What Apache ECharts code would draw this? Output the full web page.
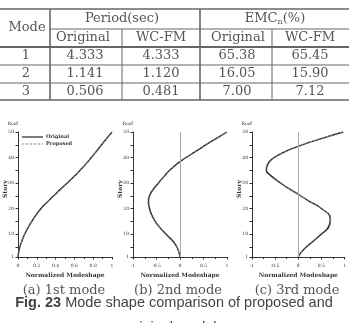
<!DOCTYPE html>
<html>
<head>
<meta charset="utf-8">
<script src="https://cdn.jsdelivr.net/npm/echarts@6/dist/echarts.min.js"></script>
<style>
  html, body { margin: 0; padding: 0; background: #fff; }
  #main { width: 349px; height: 323px; }
</style>
</head>
<body>
<div id="main"></div>
<script>
// table values
const tableModes = ["1", "2", "3"];
const periodOriginal = ["4.333", "1.141", "0.506"];
const periodWcfm = ["4.333", "1.120", "0.481"];
const emcOriginal = ["65.38", "16.05", "7.00"];
const emcWcfm = ["65.45", "15.90", "7.12"];

// mode shapes
const stories = [1, 2, 3, 5, 7, 10, 13, 16, 20, 23, 25, 28, 30, 33, 35, 38, 40, 42, 44, 46, 48, 50];
const mode1Original = [0, 0.003, 0.008, 0.02, 0.038, 0.072, 0.115, 0.165, 0.245, 0.325, 0.38, 0.465, 0.525, 0.61, 0.66, 0.735, 0.78, 0.825, 0.868, 0.91, 0.955, 1.0];
const mode1Proposed = [0, 0.004, 0.009, 0.022, 0.04, 0.075, 0.118, 0.168, 0.249, 0.329, 0.384, 0.468, 0.528, 0.612, 0.662, 0.737, 0.782, 0.827, 0.87, 0.912, 0.956, 1.0];
const mode2Original = [0, -0.01, -0.025, -0.07, -0.14, -0.3, -0.45, -0.56, -0.65, -0.67, -0.65, -0.55, -0.46, -0.32, -0.22, -0.03, 0.13, 0.3, 0.47, 0.64, 0.82, 1.0];
const mode2Proposed = [0, -0.011, -0.027, -0.074, -0.146, -0.31, -0.46, -0.57, -0.66, -0.68, -0.66, -0.56, -0.47, -0.33, -0.23, -0.04, 0.12, 0.29, 0.46, 0.63, 0.81, 1.0];
const mode3Original = [0, 0.03, 0.07, 0.18, 0.31, 0.5, 0.66, 0.69, 0.5, 0.22, 0.05, -0.22, -0.38, -0.6, -0.69, -0.64, -0.52, -0.32, -0.06, 0.25, 0.6, 0.97];
const mode3Proposed = [0, 0.032, 0.075, 0.19, 0.325, 0.52, 0.68, 0.7, 0.51, 0.23, 0.05, -0.23, -0.39, -0.62, -0.7, -0.65, -0.53, -0.33, -0.07, 0.24, 0.59, 0.97];

const storyTicks = [1, 10, 20, 30, 40, 50];
const storyMinorTicks = [1, 5, 10, 15, 20, 25, 30, 35, 40, 45, 50];
const captions = ["(a) 1st mode", "(b) 2nd mode", "(c) 3rd mode"];

const chart = echarts.init(document.getElementById("main"), null, { renderer: "canvas" });

const serif = "DejaVu Serif";
const ink = "#333";

function pairs(xs) {
  return stories.map((s, i) => [xs[i], s]);
}

// layout of the three small plots
const grids = [
  { left: 18, top: 132, width: 94, height: 125 },
  { left: 133, top: 132, width: 94, height: 125 },
  { left: 252, top: 132, width: 95, height: 125 },
];

function xAxisFor(i) {
  const first = i === 0;
  return {
    gridIndex: i,
    type: "value",
    min: first ? 0 : -1,
    max: 1,
    interval: first ? 0.2 : 0.5,
    name: "Normalized Modeshape",
    nameLocation: "middle",
    nameGap: 15,
    nameTextStyle: { fontFamily: serif, fontWeight: "bold", fontSize: 6, color: ink },
    axisLine: { onZero: false, lineStyle: { color: ink, width: 1 } },
    axisTick: { length: 2.5, lineStyle: { color: ink } },
    minorTick: { show: true, splitNumber: 2, length: 2, lineStyle: { color: ink } },
    axisLabel: { fontFamily: serif, fontSize: 4.5, color: ink, margin: 6 },
    splitLine: { show: false },
  };
}

function yAxisFor(i) {
  return {
    gridIndex: i,
    type: "value",
    min: 1,
    max: 50,
    name: "Roof",
    nameLocation: "end",
    nameGap: 6,
    nameTextStyle: { fontFamily: serif, fontSize: 4.5, color: ink, align: "right" },
    axisLine: { onZero: false, lineStyle: { color: ink, width: 1 } },
    axisTick: { length: 2.5, customValues: storyMinorTicks, lineStyle: { color: ink } },
    axisLabel: { fontFamily: serif, fontSize: 4.5, color: ink, margin: 4, customValues: storyTicks },
    splitLine: { show: false },
  };
}

const modeData = [
  [mode1Original, mode1Proposed],
  [mode2Original, mode2Proposed],
  [mode3Original, mode3Proposed],
];

const series = [];
modeData.forEach(([orig, prop], i) => {
  series.push({
    name: "Original",
    type: "line",
    xAxisIndex: i,
    yAxisIndex: i,
    data: pairs(orig),
    smooth: 0.5,
    symbol: "none",
    color: "#222",
    lineStyle: { color: "#222", width: 1.4 },
    markLine: i === 0 ? undefined : {
      silent: true,
      symbol: "none",
      label: { show: false },
      lineStyle: { color: "#aaa", width: 1, type: "solid" },
      data: [{ xAxis: 0 }],
    },
    z: 3,
  });
  series.push({
    name: "Proposed",
    type: "line",
    xAxisIndex: i,
    yAxisIndex: i,
    data: pairs(prop),
    smooth: 0.5,
    symbol: "none",
    color: "#888",
    lineStyle: { color: "#888", width: 1, type: [3, 1.5] },
    z: 4,
  });
});

// table drawn as graphic
const tableColor = "#555";
const lineColor = "#666";
const colX = [0, 50, 122, 200, 272, 349];
const rowY = [9, 29, 47, 65, 83, 100];
const tableFont = 13;

function hLine(x1, x2, y, w) {
  return { type: "line", shape: { x1, y1: y, x2, y2: y }, style: { stroke: lineColor, lineWidth: w || 1 } };
}
function vLine(x, y1, y2, w) {
  return { type: "line", shape: { x1: x, y1, x2: x, y2 }, style: { stroke: lineColor, lineWidth: w || 1 } };
}
function cellText(text, cx, cy) {
  return {
    type: "text",
    x: cx,
    y: cy,
    style: {
      text,
      fill: tableColor,
      font: tableFont + "px '" + serif + "'",
      align: "center",
      verticalAlign: "middle",
    },
  };
}

const graphics = [];
graphics.push(hLine(0, 349, rowY[0], 1.3));
graphics.push(hLine(colX[1], 349, rowY[1], 1));
graphics.push(hLine(0, 349, rowY[2], 1.8));
graphics.push(hLine(0, 349, rowY[3], 1));
graphics.push(hLine(0, 349, rowY[4], 1));
graphics.push(hLine(0, 349, rowY[5], 1.3));
graphics.push(vLine(colX[1], rowY[0], rowY[5], 1.6));
graphics.push(vLine(colX[2], rowY[1], rowY[5], 1));
graphics.push(vLine(colX[3], rowY[0], rowY[5], 1.6));
graphics.push(vLine(colX[4], rowY[1], rowY[5], 1));

graphics.push(cellText("Mode", 27, 28));
graphics.push(cellText("Period(sec)", 122, 19));
graphics.push({
  type: "text",
  x: 275,
  y: 19,
  style: {
    text: "EMC{s|n}(%)",
    fill: tableColor,
    font: tableFont + "px '" + serif + "'",
    align: "center",
    verticalAlign: "middle",
    rich: { s: { fontSize: 8, fontFamily: serif, fill: tableColor, padding: [6, 0, 0, 0] } },
  },
});
graphics.push(cellText("Original", 83, 38));
graphics.push(cellText("WC-FM", 161, 38));
graphics.push(cellText("Original", 238, 38));
graphics.push(cellText("WC-FM", 310, 38));

const rowCenters = [56, 74, 91.5];
tableModes.forEach((m, r) => {
  const cy = rowCenters[r];
  graphics.push(cellText(m, 26, cy));
  graphics.push(cellText(periodOriginal[r], 85, cy));
  graphics.push(cellText(periodWcfm[r], 161, cy));
  graphics.push(cellText(emcOriginal[r], 237, cy));
  graphics.push(cellText(emcWcfm[r], 310, cy));
});

// y axis titles ("Story") for each plot
const storyX = [5, 120, 239];
storyX.forEach((x) => {
  graphics.push({
    type: "text",
    x: x,
    y: 189,
    rotation: Math.PI / 2,
    style: {
      text: "Story",
      fill: ink,
      font: "bold 6px '" + serif + "'",
      align: "center",
      verticalAlign: "middle",
    },
  });
});

// legend of the first plot, drawn by hand
graphics.push({ type: "line", shape: { x1: 22, y1: 137, x2: 43, y2: 137 }, style: { stroke: "#222", lineWidth: 1.2 } });
graphics.push({ type: "line", shape: { x1: 22, y1: 144, x2: 43, y2: 144 }, style: { stroke: "#888", lineWidth: 1, lineDash: [2.5, 1.5] } });
graphics.push({ type: "text", x: 46, y: 137, style: { text: "Original", fill: ink, font: "bold 5px '" + serif + "'", verticalAlign: "middle" } });
graphics.push({ type: "text", x: 46, y: 144, style: { text: "Proposed", fill: ink, font: "bold 5px '" + serif + "'", verticalAlign: "middle" } });

// captions
const captionX = [64, 178, 297];
captions.forEach((c, i) => {
  graphics.push({
    type: "text",
    x: captionX[i],
    y: 291,
    style: { text: c, fill: "#555", font: "13px '" + serif + "'", align: "center", verticalAlign: "middle" },
  });
});
graphics.push({
  type: "text",
  x: 174,
  y: 303,
  style: {
    text: "{b|Fig. 23} Mode shape comparison of proposed and",
    fill: "#444",
    font: "14.5px 'Liberation Sans'",
    align: "center",
    verticalAlign: "middle",
    rich: { b: { fontWeight: "bold", fontSize: 14.5, fontFamily: "Liberation Sans", fill: "#444" } },
  },
});
graphics.push({
  type: "text",
  x: 175,
  y: 328,
  style: { text: "original models", fill: "#444", font: "14.5px 'Liberation Sans'", align: "center", verticalAlign: "middle" },
});

chart.setOption({
  animation: false,
  backgroundColor: "#fff",
  grid: grids,
  xAxis: [0, 1, 2].map(xAxisFor),
  yAxis: [0, 1, 2].map(yAxisFor),
  series: series,
  graphic: graphics,
});
</script>
</body>
</html>
